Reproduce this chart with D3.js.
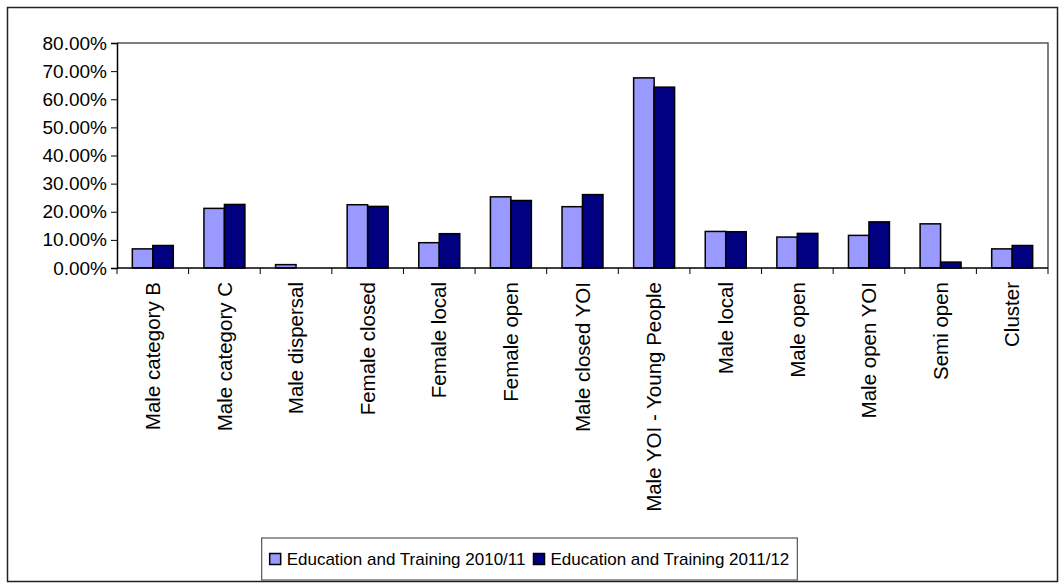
<!DOCTYPE html>
<html>
<head>
<meta charset="utf-8">
<script src="https://cdn.jsdelivr.net/npm/d3@7"></script>
<style>
  html, body { margin: 0; padding: 0; background: #fff; }
  svg { display: block; font-family: "Liberation Sans", Arial, sans-serif; }
</style>
</head>
<body>
<svg id="chart" width="1059" height="583"></svg>
<script>
// Establishment types
const categories = [
  "Male category B", "Male category C", "Male dispersal", "Female closed",
  "Female local", "Female open", "Male closed YOI", "Male YOI - Young People",
  "Male local", "Male open", "Male open YOI", "Semi open", "Cluster"
];
// Share of prisoners in education and training (fraction)
const edu2010 = [0.068, 0.212, 0.012, 0.225, 0.090, 0.253, 0.218, 0.676, 0.130, 0.110, 0.116, 0.157, 0.068];
const edu2011 = [0.080, 0.226, 0.000, 0.219, 0.122, 0.240, 0.261, 0.643, 0.129, 0.123, 0.164, 0.021, 0.080];
const seriesNames = ["Education and Training 2010/11", "Education and Training 2011/12"];
const seriesColors = ["#9999FF", "#000080"];
const yTicks = [0, 0.1, 0.2, 0.3, 0.4, 0.5, 0.6, 0.7, 0.8];

const svg = d3.select("#chart");
const W = 1059, H = 583;
const tickFont = 19, catFont = 20.5, legFont = 17;

// Chart frame
svg.append("rect")
  .attr("x", 7.5).attr("y", 7.5)
  .attr("width", W - 9).attr("height", H - 9)
  .attr("fill", "#fff").attr("stroke", "#222").attr("stroke-width", 1.5);

const plot = { left: 117, top: 43, right: 1048, bottom: 268 };

const x = d3.scaleBand()
  .domain(categories)
  .range([plot.left, plot.right])
  .paddingInner(0).paddingOuter(0);

const y = d3.scaleLinear()
  .domain([0, 0.8])
  .range([plot.bottom, plot.top]);

const series = [edu2010, edu2011];
const barW = x.bandwidth() * 0.286;

// Plot area border (top and right)
svg.append("path")
  .attr("d", `M${plot.left},${plot.top}H${plot.right}V${plot.bottom}`)
  .attr("fill", "none").attr("stroke", "#555").attr("stroke-width", 1.5);

// Bars
series.forEach((vals, si) => {
  svg.append("g")
    .selectAll("rect")
    .data(categories)
    .join("rect")
    .attr("x", d => x(d) + x.bandwidth() / 2 - barW + si * barW)
    .attr("y", (d, i) => y(vals[i]))
    .attr("width", barW)
    .attr("height", (d, i) => y(0) - y(vals[i]))
    .attr("fill", seriesColors[si])
    .attr("stroke", "#000")
    .attr("stroke-width", 1.5)
    .attr("display", (d, i) => vals[i] > 0 ? null : "none");
});

// Y axis
const yAxis = d3.axisLeft(y)
  .tickValues(yTicks)
  .tickFormat(d3.format(".2%"))
  .tickSize(6)
  .tickPadding(4);
const gy = svg.append("g")
  .attr("transform", `translate(${plot.left},0)`)
  .call(yAxis);
gy.select(".domain").attr("stroke", "#000").attr("stroke-width", 1.5);
gy.selectAll(".tick line").attr("stroke", "#000").attr("stroke-width", 1);
gy.selectAll(".tick text")
  .attr("fill", "#000")
  .style("font-size", tickFont + "px")
  .style("font-family", '"Liberation Sans", Arial, sans-serif');

// X axis: tick marks at category boundaries
const xAxisG = svg.append("g");
xAxisG.append("line")
  .attr("x1", plot.left).attr("x2", plot.right)
  .attr("y1", plot.bottom).attr("y2", plot.bottom)
  .attr("stroke", "#000").attr("stroke-width", 1.5);
const bounds = categories.map(c => x(c)).concat([x(categories[categories.length - 1]) + x.bandwidth()]);
xAxisG.selectAll("line.tk")
  .data(bounds)
  .join("line")
  .attr("class", "tk")
  .attr("x1", d => d).attr("x2", d => d)
  .attr("y1", plot.bottom).attr("y2", plot.bottom + 6)
  .attr("stroke", "#000").attr("stroke-width", 1);

// Rotated category labels
xAxisG.selectAll("text")
  .data(categories)
  .join("text")
  .attr("transform", d => `translate(${x(d) + x.bandwidth() / 2},${plot.bottom + 14}) rotate(-90)`)
  .attr("text-anchor", "end")
  .attr("dy", "0.35em")
  .style("font-size", catFont + "px")
  .attr("fill", "#000")
  .text(d => d);

// Legend
const legend = svg.append("g");
const sw = 11, gap = 6, itemGap = 8, padX = 8;
const items = legend.selectAll("g.item")
  .data(seriesNames)
  .join("g")
  .attr("class", "item");
items.append("rect")
  .attr("width", sw).attr("height", sw)
  .attr("fill", (d, i) => seriesColors[i])
  .attr("stroke", "#000").attr("stroke-width", 1.5);
items.append("text")
  .attr("x", sw + gap)
  .attr("y", sw / 2)
  .attr("dy", "0.35em")
  .style("font-size", legFont + "px")
  .attr("fill", "#000")
  .text(d => d);
let cx = 0;
const widths = [];
items.each(function () { widths.push(this.getBBox().width); });
items.attr("transform", (d, i) => {
  const t = `translate(${cx},0)`;
  cx += widths[i] + itemGap;
  return t;
});
const totalW = cx - itemGap + padX * 2;
const legTop = 538, legH = 42;
const legLeft = (W - totalW) / 2;
legend.insert("rect", ":first-child")
  .attr("x", -padX).attr("y", -(legH - sw) / 2)
  .attr("width", totalW).attr("height", legH)
  .attr("fill", "#fff").attr("stroke", "#555").attr("stroke-width", 1.2);
legend.attr("transform", `translate(${legLeft + padX},${legTop + (legH - sw) / 2})`);
</script>
</body>
</html>
